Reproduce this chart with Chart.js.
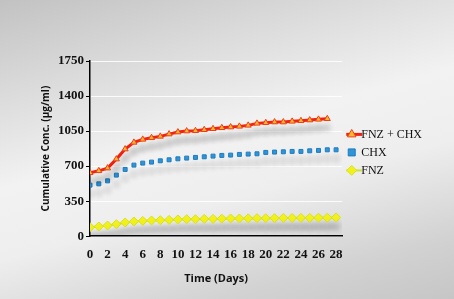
<!DOCTYPE html>
<html>
<head>
<meta charset="utf-8">
<script src="https://cdn.jsdelivr.net/npm/chart.js@4.4.0/dist/chart.umd.min.js"></script>
<style>
  html, body { margin: 0; padding: 0; }
  body {
    width: 454px; height: 299px; overflow: hidden;
    background: linear-gradient(165deg, #c2c2c2 0%, #dadada 22%, #f2f2f2 45%, #eeeeee 62%, #d2d2d2 85%, #c6c6c6 100%);
  }
  #wrap { width: 454px; height: 299px; position: relative; }
</style>
</head>
<body>
<div id="wrap"><canvas id="releaseChart"></canvas></div>
<script>
// Data
const days = [0,1,2,3,4,5,6,7,8,9,10,11,12,13,14,15,16,17,18,19,20,21,22,23,24,25,26,27,28];
const fnzChx = [633,653,680,770,870,937,967,983,997,1020,1040,1050,1053,1063,1073,1083,1090,1097,1107,1127,1133,1140,1140,1147,1153,1160,1167,1173,null];
const chx = [510,523,553,610,667,710,730,740,753,763,773,780,787,793,800,807,810,817,820,823,837,840,843,847,847,853,857,863,863];
const fnz = [90,97,107,120,137,147,153,157,160,163,167,170,170,173,173,175,177,177,178,180,180,180,182,182,183,183,185,185,187];
const yTicks = [0,350,700,1050,1400,1750];

const toPoints = (vals) => vals.map((v, i) => ({ x: days[i], y: v }));

// soft drop shadow under each series, like the original
const shadowPlugin = {
  id: 'shadow',
  beforeDatasetDraw(chart) {
    const ctx = chart.ctx;
    ctx.save();
    ctx.shadowColor = 'rgba(0,0,0,0.22)';
    ctx.shadowBlur = 6;
    ctx.shadowOffsetY = 9;
  },
  afterDatasetDraw(chart) {
    chart.ctx.restore();
  }
};

// short line behind legend markers for the line series
const legendLinePlugin = {
  id: 'legendLine',
  afterDraw(chart) {
    const lg = chart.legend;
    if (!lg || !lg.legendHitBoxes) return;
    const ctx = chart.ctx;
    chart.data.datasets.forEach((ds, i) => {
      if (!ds.showLine) return;
      const hb = lg.legendHitBoxes[i];
      const cx = hb.left + 6, cy = hb.top + hb.height / 2;
      ctx.save();
      ctx.globalCompositeOperation = 'destination-over';
      ctx.strokeStyle = ds.borderColor;
      ctx.lineWidth = ds.borderWidth;
      ctx.beginPath();
      ctx.moveTo(cx - 8, cy);
      ctx.lineTo(cx + 8, cy);
      ctx.stroke();
      ctx.restore();
    });
  }
};

const config = {
  type: 'scatter',
  data: {
    datasets: [
      {
        label: 'FNZ + CHX',
        data: toPoints(fnzChx),
        showLine: true,
        borderColor: '#f5200f',
        borderWidth: 3,
        pointStyle: 'triangle',
        pointRadius: 3.5,
        pointBackgroundColor: '#ffb52a',
        pointBorderColor: '#e8401a',
        pointBorderWidth: 1
      },
      {
        label: 'CHX',
        data: toPoints(chx),
        showLine: false,
        borderColor: '#2f95d6',
        backgroundColor: '#2f95d6',
        pointStyle: 'rect',
        pointRadius: 2.8,
        pointBackgroundColor: '#2f95d6',
        pointBorderColor: '#1d7cc0',
        pointBorderWidth: 1
      },
      {
        label: 'FNZ',
        data: toPoints(fnz),
        showLine: true,
        borderColor: '#c9e23a',
        borderWidth: 2,
        pointStyle: 'rectRot',
        pointRadius: 4.5,
        pointBackgroundColor: '#f2f21a',
        pointBorderColor: '#d8e020',
        pointBorderWidth: 1
      }
    ]
  },
  options: {
    responsive: true,
    maintainAspectRatio: false,
    animation: false,
    layout: { padding: { left: 40, top: 61, right: 22, bottom: 14 } },
    plugins: {
      tooltip: { enabled: false },
      legend: {
        position: 'right',
        align: 'start',
        title: {
          display: true,
          text: '',
          font: { size: 12 },
          padding: { top: 0, bottom: 47 }
        },
        labels: {
          usePointStyle: true,
          boxWidth: 7,
          boxHeight: 7,
          padding: 6,
          color: '#111',
          font: { family: 'Liberation Serif', size: 12 }
        }
      }
    },
    scales: {
      x: {
        type: 'linear',
        min: 0,
        max: 28.7,
        grid: { display: false, drawTicks: false },
        border: { display: true, color: '#000', width: 1.5 },
        ticks: {
          stepSize: 2,
          includeBounds: false,
          autoSkip: false,
          maxRotation: 0,
          minRotation: 0,
          color: '#111',
          padding: 11,
          font: { family: 'Liberation Serif', size: 13, weight: 'bold' }
        },
        title: {
          display: true,
          text: 'Time (Days)',
          color: '#111',
          padding: { top: -2, bottom: 0 },
          font: { family: 'Open Sans', size: 11, weight: 'bold' }
        }
      },
      y: {
        min: 0,
        max: 1750,
        afterBuildTicks: (axis) => { axis.ticks = yTicks.map(v => ({ value: v })); },
        grid: { color: 'rgba(255,255,255,0.85)', tickColor: '#000', tickLength: 4, lineWidth: 1 },
        border: { display: true, color: '#000', width: 1.5 },
        ticks: {
          color: '#111',
          padding: 2,
          callback: (v) => String(v),
          font: { family: 'Liberation Serif', size: 13, weight: 'bold' }
        },
        title: {
          display: true,
          text: 'Cumulative Conc. (µg/ml)',
          color: '#111',
          padding: { top: 0, bottom: 4 },
          font: { family: 'Open Sans', size: 10, weight: 'bold' }
        }
      }
    }
  },
  plugins: [shadowPlugin, legendLinePlugin]
};

window.addEventListener('DOMContentLoaded', () => {
  new Chart(document.getElementById('releaseChart'), config);
});
</script>
</body>
</html>
